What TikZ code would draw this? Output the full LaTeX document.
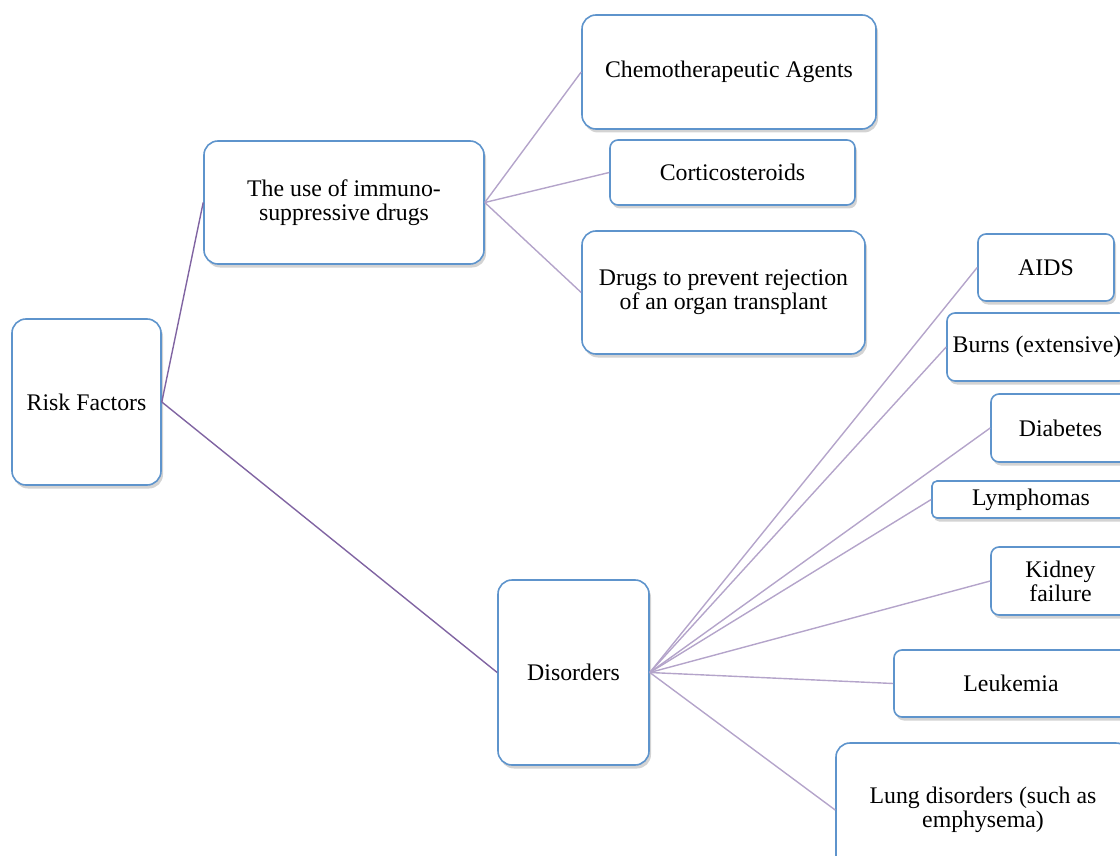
\documentclass[tikz,border=0pt]{standalone}
\usepackage{fontspec}
\setmainfont{Liberation Serif}
\usepackage{xcolor}
\usetikzlibrary{shadows}
\definecolor{boxblue}{RGB}{94,148,204}
\definecolor{linkdark}{RGB}{128,100,162}
\definecolor{linklight}{RGB}{180,164,202}

\tikzset{
  box/.style={draw=boxblue, line width=1.6pt, fill=white, rounded corners=14pt,
    align=center, inner sep=1pt,
    drop shadow={opacity=0.35, shadow xshift=2pt, shadow yshift=-3.5pt},
    font=\fontsize{23.8}{24}\selectfont},
  smallbox/.style={box, rounded corners=8pt},
  mainlink/.style={draw=linkdark, line width=1.4pt},
  sublink/.style={draw=linklight, line width=1.4pt}
}

\begin{document}
\begin{tikzpicture}[x=1pt,y=-1pt]%
  \useasboundingbox (0,0) rectangle (1120,856);
  \clip (0,0) rectangle (1120,856);
  % root
  \node[box, minimum width=149, minimum height=166] (risk) at (86.5,402) {Risk Factors};
  % first level
  \node[box, minimum width=280, minimum height=123] (immuno) at (344,202.5) {The use of immuno-\\suppressive drugs};
  \node[box, minimum width=151, minimum height=185] (disorders) at (573.5,672.5) {Disorders};
  % drugs
  \node[box, minimum width=294, minimum height=114] (chemo) at (729,72) {Chemotherapeutic Agents};
  \node[smallbox, minimum width=245, minimum height=65] (cortico) at (732.5,172.5) {Corticosteroids};
  \node[box, minimum width=283, minimum height=123] (rejection) at (723.5,292.5) {Drugs to prevent rejection\\of an organ transplant};
  % disorders
  \node[smallbox, minimum width=136, minimum height=67] (aids) at (1046,267.5) {AIDS};
  \node[smallbox, minimum width=180, minimum height=68] (burns) at (1037,347) {Burns (extensive)};
  \node[smallbox, minimum width=139, minimum height=68] (diabetes) at (1060.5,428) {Diabetes};
  \node[smallbox, rounded corners=5pt, minimum width=198, minimum height=37] (lymph) at (1031,499.5) {Lymphomas};
  \node[smallbox, minimum width=139, minimum height=68] (kidney) at (1060.5,581) {Kidney\\failure};
  \node[smallbox, minimum width=234, minimum height=67] (leuk) at (1011,683.5) {Leukemia};
  \node[box, minimum width=294, minimum height=134] (lung) at (983,810) {Lung disorders (such as\\emphysema)};

  \draw[mainlink] (risk.east) -- (immuno.west);
  \draw[mainlink] (risk.east) -- (disorders.west);
  \foreach \n in {chemo,cortico,rejection}
    \draw[sublink] (immuno.east) -- (\n.west);
  \foreach \n in {aids,burns,diabetes,lymph,kidney,leuk,lung}
    \draw[sublink] (disorders.east) -- (\n.west);
\end{tikzpicture}
\end{document}
